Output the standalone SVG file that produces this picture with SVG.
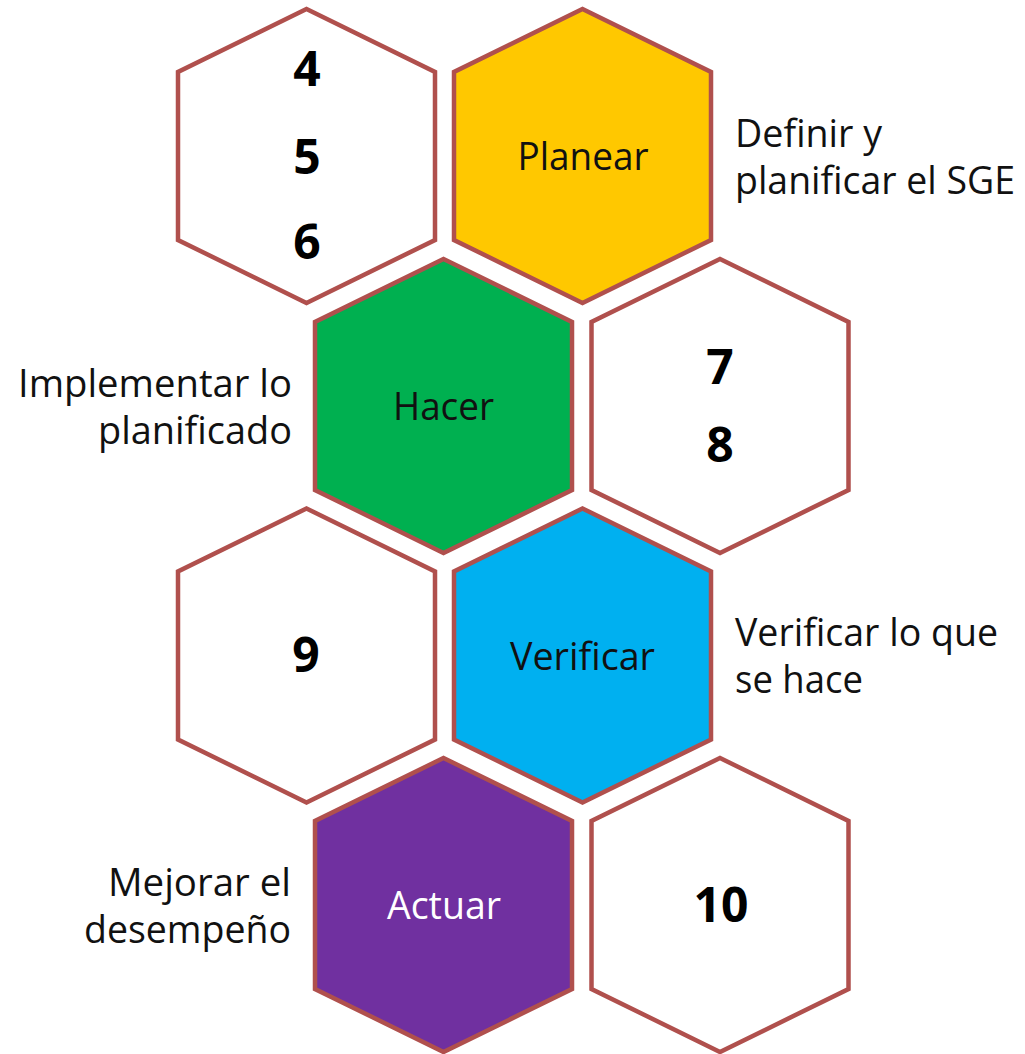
<svg xmlns="http://www.w3.org/2000/svg" xmlns:xlink="http://www.w3.org/1999/xlink" width="1025" height="1054" viewBox="0 0 1025 1054">
  <style>
    .hex { stroke: #B0504D; stroke-width: 4.5; stroke-linejoin: miter; }
    .white { fill: #FFFFFF; }
    .gold { fill: #FFC800; }
    .green { fill: #00B050; }
    .blue { fill: #00B0F0; }
    .purple { fill: #7030A0; }
    .lbl { font-family: "Open Sans", "Liberation Sans", sans-serif; font-size: 38px; fill: #111111; }
    .num { font-family: "Open Sans", "Liberation Sans", sans-serif; font-size: 48px; font-weight: bold; fill: #000000; text-anchor: middle; }
    .mid { text-anchor: middle; }
    .end { text-anchor: end; }
  </style>
  <defs>
    <polygon id="hex" points="0,-147 128.5,-84 128.5,84 0,147 -128.5,84 -128.5,-84"/>
  </defs>
  <rect x="0" y="0" width="1025" height="1054" fill="#FFFFFF"/>
  <g id="connectors"></g>

  <g id="node-456">
    <use xlink:href="#hex" href="#hex" class="hex white" transform="translate(306.5,156)"/>
    <text class="num" x="307" y="86">4</text>
    <text class="num" x="307" y="174">5</text>
    <text class="num" x="307" y="259">6</text>
  </g>

  <g id="node-planear">
    <use xlink:href="#hex" href="#hex" class="hex gold" transform="translate(582.5,156)"/>
    <text class="lbl mid" x="583" y="170" textLength="131" lengthAdjust="spacingAndGlyphs">Planear</text>
  </g>
  <g id="note-planear">
    <text class="lbl" x="735" y="147" textLength="147" lengthAdjust="spacingAndGlyphs">Definir y</text>
    <text class="lbl" x="735" y="194" textLength="280" lengthAdjust="spacingAndGlyphs">planificar el SGE</text>
  </g>

  <g id="node-hacer">
    <use xlink:href="#hex" href="#hex" class="hex green" transform="translate(443.5,406)"/>
    <text class="lbl mid" x="443.5" y="420" textLength="101" lengthAdjust="spacingAndGlyphs">Hacer</text>
  </g>
  <g id="note-hacer">
    <text class="lbl end" x="292" y="397" textLength="274" lengthAdjust="spacingAndGlyphs">Implementar lo</text>
    <text class="lbl end" x="292" y="444" textLength="194" lengthAdjust="spacingAndGlyphs">planificado</text>
  </g>

  <g id="node-78">
    <use xlink:href="#hex" href="#hex" class="hex white" transform="translate(720,406)"/>
    <text class="num" x="720" y="384">7</text>
    <text class="num" x="720" y="462">8</text>
  </g>

  <g id="node-9">
    <use xlink:href="#hex" href="#hex" class="hex white" transform="translate(306.5,655.5)"/>
    <text class="num" x="306" y="672">9</text>
  </g>

  <g id="node-verificar">
    <use xlink:href="#hex" href="#hex" class="hex blue" transform="translate(582.5,655.5)"/>
    <text class="lbl mid" x="582.5" y="670" textLength="145" lengthAdjust="spacingAndGlyphs">Verificar</text>
  </g>
  <g id="note-verificar">
    <text class="lbl" x="735" y="646" textLength="263" lengthAdjust="spacingAndGlyphs">Verificar lo que</text>
    <text class="lbl" x="735" y="693" textLength="128" lengthAdjust="spacingAndGlyphs">se hace</text>
  </g>

  <g id="node-actuar">
    <use xlink:href="#hex" href="#hex" class="hex purple" transform="translate(443.5,905)"/>
    <text class="lbl mid" x="444" y="919" textLength="114" lengthAdjust="spacingAndGlyphs" style="fill:#FFFFFF">Actuar</text>
  </g>
  <g id="note-actuar">
    <text class="lbl end" x="291" y="896" textLength="183" lengthAdjust="spacingAndGlyphs">Mejorar el</text>
    <text class="lbl end" x="291" y="943" textLength="207" lengthAdjust="spacingAndGlyphs">desempeño</text>
  </g>

  <g id="node-10">
    <use xlink:href="#hex" href="#hex" class="hex white" transform="translate(720,905)"/>
    <text class="num" x="721" y="922">10</text>
  </g>
</svg>
